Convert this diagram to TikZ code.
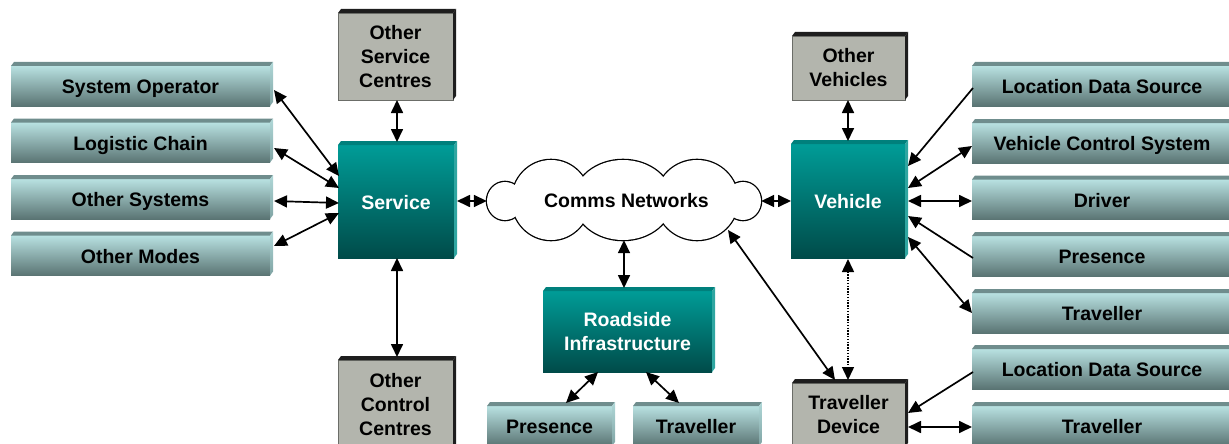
\documentclass[tikz,border=0pt]{standalone}
\usepackage{fontspec}
\setmainfont{Liberation Sans}
\usetikzlibrary{arrows.meta,calc}

\definecolor{lbTop}{HTML}{B8E1E1}
\definecolor{lbMid}{HTML}{92B8B8}
\definecolor{lbBot}{HTML}{5A7473}
\definecolor{lbBevTop}{HTML}{6F8D8D}
\definecolor{lbBevA}{HTML}{B0D8D8}
\definecolor{lbBevB}{HTML}{7FA3A3}
\definecolor{tTop}{HTML}{009C97}
\definecolor{tMid}{HTML}{00726E}
\definecolor{tBot}{HTML}{004B49}
\definecolor{tBevTop}{HTML}{00807C}
\definecolor{tBevSide}{HTML}{2FA6A1}
\definecolor{gFill}{HTML}{B3B5AD}
\definecolor{gEdge}{HTML}{6B6D68}
\definecolor{gBev}{HTML}{1E1E1E}

% raised edge along the top and right of a box face
\newcommand\bevel[3]{%
  \path[#2] (#1.north west) -- ++(3,-4) -- ($(#1.north east)+(3,-4)$) -- (#1.north east) -- cycle;
  \path[#3] (#1.north east) -- ++(3,-4) -- ($(#1.south east)+(3,-4)$) -- (#1.south east) -- cycle;}

\tikzset{
  face/.style={inner sep=0pt, outer sep=0pt, align=center},
  oneline/.style={text height=15pt, text depth=0pt},
  extbox/.style={face, oneline, shade, top color=lbTop, middle color=lbMid, bottom color=lbBot,
    minimum height=40pt, text=black},
  unitbox/.style={face, shade, top color=tTop, middle color=tMid, bottom color=tBot, text=white},
  peerbox/.style={face, fill=gFill, draw=gEdge, line width=0.8pt, text=black},
  link/.style={line width=1.7pt, {Triangle[length=13pt,width=12pt]}-{Triangle[length=13pt,width=12pt]}},
  feed/.style={line width=1.7pt, -{Triangle[length=13pt,width=12pt]}},
  weak/.style={link, line width=1.5pt, dash pattern=on 1.4pt off 1.4pt},
}

\begin{document}
\begin{tikzpicture}[x=1pt,y=-1pt, font=\fontsize{19.5}{24}\selectfont\bfseries]
\useasboundingbox (0,0) rectangle (1229,444);

% ---- external parties on the left
\node[extbox, minimum width=259pt] (sysop) at (140.5,86)    {System Operator};
\node[extbox, minimum width=259pt] (logi)  at (140.5,142.5) {Logistic Chain};
\node[extbox, minimum width=259pt] (osys)  at (140.5,199)   {Other Systems};
\node[extbox, minimum width=259pt] (omod)  at (140.5,255.5) {Other Modes};

% ---- external parties on the right
\node[extbox, minimum width=260pt] (ldsv)  at (1102,86)  {Location Data Source};
\node[extbox, minimum width=260pt] (vcs)   at (1102,143) {Vehicle Control System};
\node[extbox, minimum width=260pt] (drv)   at (1102,199.5) {Driver};
\node[extbox, minimum width=260pt] (presv) at (1102,256) {Presence};
\node[extbox, minimum width=260pt] (travv) at (1102,313) {Traveller};
\node[extbox, minimum width=260pt] (ldst)  at (1102,369) {Location Data Source};
\node[extbox, minimum width=260pt] (travt) at (1102,426) {Traveller};

% ---- roadside parties
\node[extbox, minimum width=125pt] (pres) at (549.5,426) {Presence};
\node[extbox, minimum width=126pt] (trav) at (696,426)   {Traveller};

\foreach \n in {sysop,logi,osys,omod,ldsv,vcs,drv,presv,travv,ldst,travt,pres,trav}
  \bevel{\n}{fill=lbBevTop}{top color=lbBevA, bottom color=lbBevB};

% ---- system units
\node[unitbox, oneline, minimum width=116pt, minimum height=113pt] (svc) at (396,201.5) {Service};
\node[unitbox, oneline, minimum width=114pt, minimum height=114pt] (veh) at (848,201)   {Vehicle};
\node[unitbox, minimum width=169pt, minimum height=81pt]  (rs)  at (627.5,331.5) {Roadside\\Infrastructure};
\foreach \n in {svc,veh,rs}
  \bevel{\n}{fill=tBevTop}{fill=tBevSide};

% ---- peer units
\node[peerbox, minimum width=115pt, minimum height=87pt] (osc) at (395.5,56.5) {Other\\Service\\Centres};
\node[peerbox, minimum width=115pt, minimum height=90pt] (occ) at (395.5,405)  {Other\\Control\\Centres};
\node[peerbox, minimum width=113pt, minimum height=64pt] (ov)  at (848.5,68)   {Other\\Vehicles};
\node[peerbox, minimum width=113pt, minimum height=64pt] (td)  at (848.5,415)  {Traveller\\Device};
\foreach \n in {osc,occ,ov,td}
  \bevel{\n}{fill=gBev}{fill=gBev};

% ---- communications cloud: thick outlines, then white fill leaves the outer rim
\foreach \cx/\cy/\rx/\ry in {505/201/18/19, 551/200/39/40, 623/200/49/40, 697/200/41/40, 743/201/18/19}
  \draw[line width=2.6pt] (\cx,\cy) ellipse [x radius=\rx, y radius=\ry];
\foreach \cx/\cy/\rx/\ry in {505/201/18/19, 551/200/39/40, 623/200/49/40, 697/200/41/40, 743/201/18/19}
  \fill[white] (\cx,\cy) ellipse [x radius=\rx, y radius=\ry];
\node[inner sep=0pt, minimum width=274pt, minimum height=80pt] (cloud) at (624,200) {};
\node[oneline] at (626.5,200) {Comms Networks};

% ---- connectors around the service unit
\draw[link] ($(sysop.east)+(4,4)$)   -- ($(svc.west)+(1,-25.5)$);
\draw[link] ($(logi.east)+(4,5.5)$)  -- ($(svc.west)+(1,-13.5)$);
\draw[link] ($(osys.east)+(4,2)$)    -- ($(svc.west)+(1,1.5)$);
\draw[link] ($(omod.east)+(4,-9.5)$) -- ($(svc.west)+(1,11.5)$);
\draw[link] ($(osc.south)+(1.5,0)$)  -- ($(svc.north)+(1,-3)$);
\draw[link] ($(svc.south)+(1,0)$)    -- ($(occ.north)+(1.5,-3)$);
\draw[link] ($(svc.east)+(3,-0.5)$)  -- ($(cloud.west)+(0,1)$);

% ---- connectors from the cloud
\draw[link] ($(cloud.east)+(0,1)$)   -- ($(veh.west)+(0,0)$);
\draw[link] (cloud.south) -- ($(cloud.south |- rs.north)+(0,-3)$);
\draw[link] ($(cloud.center)+(104,30)$) -- ($(td.north)+(-13.5,-3)$);

% ---- connectors around the vehicle
\draw[link] ($(ov.south)+(-0.5,0)$)  -- ($(veh.north)+(0,-3)$);
\draw[weak] ($(veh.south)+(0,1)$)    -- ($(td.north)+(-0.5,-3)$);
\draw[feed] ($(ldsv.west)+(1,2)$)    -- ($(veh.east)+(3,-35)$);
\draw[link] ($(vcs.west)+(0,3)$)     -- ($(veh.east)+(3,-13)$);
\draw[link] ($(drv.west)+(0,1.5)$)   -- ($(veh.east)+(3,0)$);
\draw[feed] ($(presv.west)+(1,2)$)   -- ($(veh.east)+(3,15)$);
\draw[link] (travv.west)             -- ($(veh.east)+(3,36)$);

% ---- connectors around the traveller device
\draw[feed] ($(ldst.west)+(1,3)$)    -- ($(td.east)+(3,-2)$);
\draw[link] ($(travt.west)+(0,1)$)   -- ($(td.east)+(3,12)$);

% ---- connectors below the roadside unit
\draw[link] ($(rs.south)+(-29.5,0)$) -- ($(pres.north)+(16.5,-3)$);
\draw[link] ($(rs.south)+(18.5,0)$)  -- ($(trav.north)+(-17,-3)$);
\end{tikzpicture}
\end{document}
